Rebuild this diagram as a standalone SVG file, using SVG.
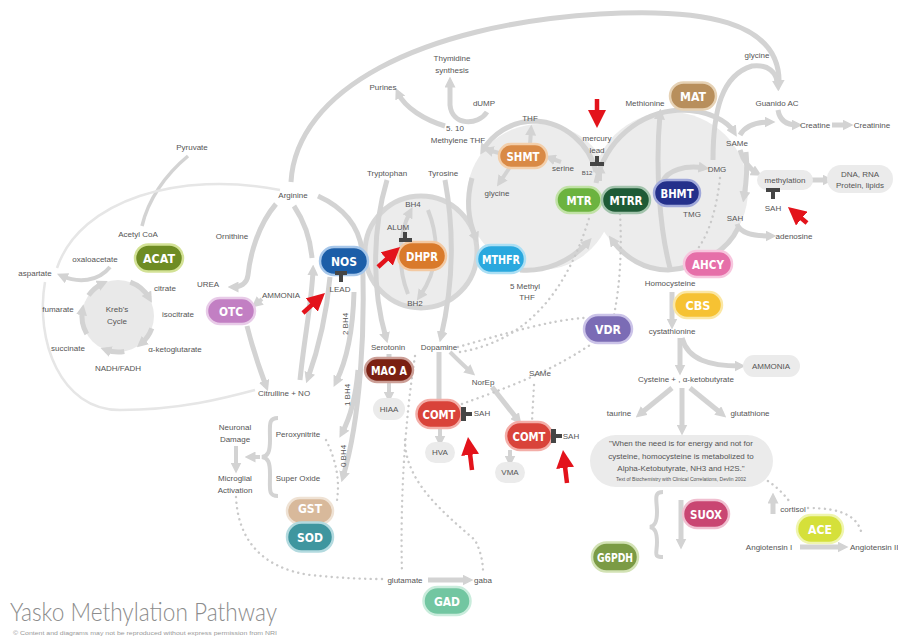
<svg xmlns="http://www.w3.org/2000/svg" width="898" height="638" viewBox="0 0 898 638">
<style>
.a{fill:none;stroke:#d3d3d3;stroke-width:5;marker-end:url(#ah)}
.a4{fill:none;stroke:#d3d3d3;stroke-width:4;marker-end:url(#ah)}
.n{fill:none;stroke:#d3d3d3;stroke-width:5}
.th{fill:none;stroke:#e6e6e6;stroke-width:2.5}
.dt{fill:none;stroke:#c9c9c9;stroke-width:2.4;stroke-dasharray:0.1 5.5;stroke-linecap:round}
.rd{fill:none;stroke:#e3131b;stroke-width:4.5;marker-end:url(#rh)}
.lb{font-family:'Liberation Sans',Arial,sans-serif;font-size:8px;fill:#555;text-anchor:middle}
.sm{font-family:'Liberation Sans',Arial,sans-serif;font-size:6px;fill:#555;text-anchor:middle}
.nt{font-family:'DejaVu Sans','Liberation Sans',sans-serif;font-stretch:condensed;font-weight:bold;font-size:12px;fill:#fff;text-anchor:middle}
.gp{fill:#ebebeb}
.inh{fill:#454545}
.pill{stroke-width:2.5}
</style>
<defs>
<marker id="ah" viewBox="0 0 10 10" refX="5" refY="5" markerWidth="11" markerHeight="11" markerUnits="userSpaceOnUse" orient="auto"><path d="M0,0 L10,5 L0,10 z" fill="#d3d3d3"/></marker>
<marker id="rh" viewBox="0 0 10 10" refX="7" refY="5" markerWidth="18" markerHeight="18" markerUnits="userSpaceOnUse" orient="auto"><path d="M0,0 L10,5 L0,10 z" fill="#e3131b"/></marker>
</defs>
<rect width="898" height="638" fill="#ffffff"/>

<g id="cycles">
<circle cx="540" cy="197" r="73" fill="#ececec"/>
<circle cx="670" cy="190" r="78" fill="#ececec"/>
<circle cx="421" cy="252" r="56" fill="#ececec" stroke="#d6d6d6" stroke-width="5"/>
<circle cx="118" cy="316" r="36" fill="#e9e9e9"/>
</g>

<g id="connectors">
<path class="a" d="M291,182 C296,90 420,25 600,14 C700,8 782,20 779,85"/>
<path class="a" d="M713,160 C713,110 722,75 752,66 C768,64 777,72 778,86"/>
<path class="a" d="M778,110 C780,122 788,125 797,125"/>
<path class="a" d="M740,135 C745,126 755,122 770,122"/>
<path class="a" d="M832,125 L848,125"/>
<path class="a" d="M740,150 C743,160 748,168 757,173"/>
<path class="a" d="M812,180 L828,180"/>
<path class="a" d="M737,224 C740,233 752,236 771,236"/>
<path class="a" d="M596,183 C605,140 640,112 680,110 C710,110 728,122 734,132"/>
<path class="a" d="M746,152 C748,170 746,185 744,197"/>
<path class="a" d="M738,228 C728,250 700,268 668,270 C645,270 625,258 612,240"/>
<path class="a" d="M670,268 C660,230 655,170 660,114"/>
<path class="a" d="M662,182 C668,170 685,165 704,168"/>
<path class="a4" d="M600,181 L600,168"/>
<path class="a" d="M596,172 C590,145 565,122 535,121 C510,121 492,135 483,150"/>
<path class="a" d="M472,178 C466,200 468,220 476,238"/>
<path class="a" d="M520,270 C545,272 570,262 588,242"/>
<path class="a4" d="M530,145 L531,130"/>
<path class="a4" d="M510,167 L500,182"/>
<path class="a4" d="M561,162 L550,158"/>
<path class="a4" d="M499,153 L488,150"/>
<path class="a" d="M445,126 C425,120 405,108 398,93"/>
<path class="a" d="M487,112 C478,126 452,126 450,105 L450,82"/>
<path class="a4" d="M428,210 C440,240 438,270 420,296"/>
<path class="a4" d="M408,294 C398,270 398,235 410,212"/>
<path class="a" d="M130.3,282.2 A36,36 0 0 1 149.2,298"/>
<path class="a" d="M151.8,328.3 A36,36 0 0 1 141.1,343.6"/>
<path class="a" d="M124.3,351.5 A36,36 0 0 1 105.7,349.8"/>
<path class="a" d="M86.8,334 A36,36 0 0 1 82.5,309.7"/>
<path class="a" d="M88.5,295.4 A36,36 0 0 1 102.8,283.4"/>
<path class="n" d="M188,156 C165,175 148,200 142,226" style="stroke-width:3.5"/>
<path class="a4" d="M110,267 C98,282 78,283 62,276"/>
<path class="th" d="M57,268 C80,200 180,170 280,190"/>
<path class="th" d="M45,282 C35,340 60,410 120,410 C180,410 225,398 255,390"/>
<path class="a" d="M276,204 C258,225 250,255 248,275 C247,284 240,287 233,287"/>
<path class="a4" d="M262,299 L256,304"/>
<path class="a" d="M247,326 C253,350 260,370 266,386"/>
<path class="a" d="M300,380 C304,340 312,300 313,270"/>
<path class="n" d="M312,258 C310,235 302,218 294,206"/>
<path class="a" d="M318,196 C340,206 358,222 362,250 C366,330 360,420 343,477"/>
<path class="a" d="M330,277 C326,320 318,350 308,378"/>
<path class="a" d="M354,292 C353,330 347,360 336,382"/>
<path class="a" d="M358,370 C356,395 350,418 342,433"/>
<path class="a4" d="M236,446 L236,468"/>
<path d="M278,418 C268,418 270,425 270,440 C270,452 268,456 262,457 C268,458 270,462 270,474 C270,490 268,496 278,496" fill="none" stroke="#d3d3d3" stroke-width="4"/>
<path class="a4" d="M260,457 L250,457"/>
<path class="a" d="M387,180 C372,230 372,290 386,338"/>
<path class="a" d="M445,180 C456,240 452,290 441,337"/>
<path class="a4" d="M450,352 C458,360 464,366 471,372"/>
<path class="n" d="M439,352 L439,400"/>
<path class="a4" d="M440,428 L440,441"/>
<path class="a" d="M492,387 L518,420"/>
<path class="a4" d="M510,450 L510,461"/>
<path class="n" d="M389,354 L389,360"/>
<path class="a4" d="M389,382 L389,397"/>
<path class="a" d="M428,580 L468,580"/>
<path class="a" d="M672,292 L672,324"/>
<path class="a" d="M680,338 L680,370"/>
<path class="a" d="M682,338 C688,360 710,366 740,366"/>
<path class="a" d="M672,388 L640,414"/>
<path class="a" d="M682,388 L682,430"/>
<path class="a" d="M690,388 L722,414"/>
<path d="M663,492 C653,492 657,500 657,512 C657,522 655,526 650,527 C655,528 657,532 657,542 C657,554 653,557 663,557" fill="none" stroke="#d3d3d3" stroke-width="4"/>
<path class="a" d="M681,500 L681,544"/>
<path class="a" d="M773,514 L773,498"/>
<path class="a" d="M800,547 L843,547"/>
<path class="dt" d="M236,497 C238,540 262,568 310,575 C340,578 360,579 384,579"/>
<path class="dt" d="M326,440 C336,460 340,480 337,500"/>
<path class="dt" d="M415,356 C405,420 400,500 402,572"/>
<path class="dt" d="M405,440 C405,480 440,510 475,540 C480,550 483,560 483,572"/>
<path class="dt" d="M458,347 C500,335 550,320 584,318"/>
<path class="dt" d="M460,352 C520,342 565,300 590,215"/>
<path class="dt" d="M620,214 C622,250 620,285 614,315"/>
<path class="dt" d="M462,404 C500,390 545,375 590,345"/>
<path class="dt" d="M534,385 L532,421"/>
<path class="dt" d="M763,478 C775,485 782,492 790,502"/>
<path class="dt" d="M808,508 C840,508 858,515 862,535"/>
<path class="dt" d="M720,178 C716,215 706,240 695,252"/>
</g>

<g id="n-hiaa"><rect class="gp" x="373" y="398" width="32" height="22" rx="11"/><text class="lb" x="389" y="412">HIAA</text></g>
<g id="n-hva"><rect class="gp" x="425" y="442" width="30" height="21" rx="10.5"/><text class="lb" x="440" y="455">HVA</text></g>
<g id="n-vma"><rect class="gp" x="495" y="462" width="30" height="21" rx="10.5"/><text class="lb" x="510" y="475">VMA</text></g>
<g id="n-ammonia2"><rect class="gp" x="743" y="355" width="57" height="22" rx="11"/><text class="lb" x="771" y="369">AMMONIA</text></g>
<g id="n-methylation"><rect class="gp" x="757" y="170" width="56" height="20" rx="10"/><text class="lb" x="785" y="183">methylation</text></g>
<g id="n-dna"><rect class="gp" x="827" y="165" width="66" height="28" rx="14"/><text class="lb" x="860" y="177">DNA, RNA</text><text class="lb" x="860" y="188">Protein, lipids</text></g>
<g id="n-quote"><rect class="gp" x="590" y="435" width="183" height="52" rx="26"/>
<text class="lb" x="681" y="446" fill="#444">"When the need is for energy and not for</text>
<text class="lb" x="681" y="459" fill="#444">cysteine, homocysteine is metabolized to</text>
<text class="lb" x="681" y="471" fill="#444">Alpha-Ketobutyrate, NH3 and H2S."</text>
<text class="sm" x="681" y="481" style="font-size:5px">Text of Biochemistry with Clinical Correlations, Devlin 2002</text></g>

<g id="n-acat"><rect class="pill" x="135" y="244.5" width="48" height="27" rx="13.5" fill="#6e8c23" stroke="#d3e296"/><text class="nt" x="159" y="262.5" textLength="32" lengthAdjust="spacingAndGlyphs">ACAT</text></g>
<g id="n-otc"><rect class="pill" x="207" y="298" width="48" height="26" rx="13" fill="#c27fc3" stroke="#e8cbe8"/><text class="nt" x="231" y="315.5" textLength="24" lengthAdjust="spacingAndGlyphs">OTC</text></g>
<g id="n-nos"><rect class="pill" x="320" y="247" width="48" height="28" rx="14" fill="#1c5ea8" stroke="#a7c7ea"/><text class="nt" x="344" y="265.5" textLength="26" lengthAdjust="spacingAndGlyphs">NOS</text></g>
<g id="n-dhpr"><rect class="pill" x="398" y="242" width="48" height="28" rx="14" fill="#d97a2b" stroke="#f3c9a2"/><text class="nt" x="422" y="260.5" textLength="32" lengthAdjust="spacingAndGlyphs">DHPR</text></g>
<g id="n-mthfr"><rect class="pill" x="477" y="245" width="48" height="28" rx="14" fill="#2aa8de" stroke="#acdff4"/><text class="nt" x="501" y="263.5" textLength="38" lengthAdjust="spacingAndGlyphs">MTHFR</text></g>
<g id="n-shmt"><rect class="pill" x="499" y="144" width="48" height="24" rx="12" fill="#d98a46" stroke="#f3cfab"/><text class="nt" x="523" y="160.5" textLength="33" lengthAdjust="spacingAndGlyphs">SHMT</text></g>
<g id="n-mtr"><rect class="pill" x="556.5" y="187" width="45" height="26" rx="13" fill="#6cb33f" stroke="#c1e2a6"/><text class="nt" x="579" y="204.5" textLength="25" lengthAdjust="spacingAndGlyphs">MTR</text></g>
<g id="n-mtrr"><rect class="pill" x="602" y="187" width="48" height="26" rx="13" fill="#1e5b36" stroke="#a2c3ac"/><text class="nt" x="626" y="204.5" textLength="33" lengthAdjust="spacingAndGlyphs">MTRR</text></g>
<g id="n-bhmt"><rect class="pill" x="654" y="180" width="46" height="26" rx="13" fill="#24308b" stroke="#a0a8da"/><text class="nt" x="677" y="197.5" textLength="33" lengthAdjust="spacingAndGlyphs">BHMT</text></g>
<g id="n-mat"><rect class="pill" x="670" y="82.5" width="46" height="27" rx="13.5" fill="#b88f5c" stroke="#e6d2b5"/><text class="nt" x="693" y="100.5" textLength="26" lengthAdjust="spacingAndGlyphs">MAT</text></g>
<g id="n-ahcy"><rect class="pill" x="684" y="251" width="48" height="26" rx="13" fill="#e66fa9" stroke="#f7c6de"/><text class="nt" x="708" y="268.5" textLength="32" lengthAdjust="spacingAndGlyphs">AHCY</text></g>
<g id="n-cbs"><rect class="pill" x="674" y="292" width="48" height="26" rx="13" fill="#f6c233" stroke="#fbe7a4"/><text class="nt" x="698" y="309.5" textLength="25" lengthAdjust="spacingAndGlyphs">CBS</text></g>
<g id="n-vdr"><rect class="pill" x="584" y="315" width="48" height="28" rx="14" fill="#7b6cb5" stroke="#cbc3e8"/><text class="nt" x="608" y="333.5" textLength="26" lengthAdjust="spacingAndGlyphs">VDR</text></g>
<g id="n-maoa"><rect class="pill" x="365" y="358" width="48" height="24" rx="12" fill="#7a2012" stroke="#cc9f97"/><text class="nt" x="389" y="374.5" textLength="36" lengthAdjust="spacingAndGlyphs">MAO A</text></g>
<g id="n-comt1"><rect class="pill" x="416.5" y="400" width="45" height="28" rx="14" fill="#d9433a" stroke="#f3aea8"/><text class="nt" x="439" y="418.5" textLength="33" lengthAdjust="spacingAndGlyphs">COMT</text></g>
<g id="n-comt2"><rect class="pill" x="506" y="422" width="46" height="28" rx="14" fill="#d9433a" stroke="#f3aea8"/><text class="nt" x="529" y="440.5" textLength="33" lengthAdjust="spacingAndGlyphs">COMT</text></g>
<g id="n-gst"><rect class="pill" x="287" y="498" width="46" height="26" rx="13" fill="#d8b99b" stroke="#efe2d4"/><text class="nt" x="310" y="513" textLength="24" lengthAdjust="spacingAndGlyphs">GST</text></g>
<g id="n-sod"><rect class="pill" x="287" y="522.5" width="46" height="29" rx="14.5" fill="#3f969f" stroke="#b3dadf"/><text class="nt" x="310" y="541.5" textLength="26" lengthAdjust="spacingAndGlyphs">SOD</text></g>
<g id="n-gad"><rect class="pill" x="423.5" y="587" width="47" height="28" rx="14" fill="#72c6a1" stroke="#c9ecdc"/><text class="nt" x="447" y="605.5" textLength="26" lengthAdjust="spacingAndGlyphs">GAD</text></g>
<g id="n-suox"><rect class="pill" x="683" y="500" width="46" height="28" rx="14" fill="#c94672" stroke="#f0bfd0"/><text class="nt" x="706" y="518.5" textLength="32" lengthAdjust="spacingAndGlyphs">SUOX</text></g>
<g id="n-ace"><rect class="pill" x="797" y="515" width="46" height="28" rx="14" fill="#d5e03a" stroke="#eff5ae"/><text class="nt" x="820" y="533.5" textLength="24" lengthAdjust="spacingAndGlyphs">ACE</text></g>
<g id="n-g6pdh"><rect class="pill" x="592" y="542.5" width="46" height="29" rx="14.5" fill="#7b9b45" stroke="#d2e2b4"/><text class="nt" x="615" y="561.5" textLength="36" lengthAdjust="spacingAndGlyphs">G6PDH</text></g>

<g id="inhibitors">
<rect class="inh" x="335" y="271" width="12" height="4"/><rect class="inh" x="339" y="274" width="4" height="8"/>
<rect class="inh" x="403" y="232" width="4" height="8"/><rect class="inh" x="399" y="238" width="13" height="4"/>
<rect class="inh" x="595" y="156" width="4" height="7"/><rect class="inh" x="590" y="162" width="14" height="4"/>
<rect class="inh" x="461" y="407" width="5" height="14"/><rect class="inh" x="465" y="412" width="7" height="4"/>
<rect class="inh" x="551" y="429" width="5" height="14"/><rect class="inh" x="555" y="434" width="7" height="4"/>
<rect class="inh" x="766" y="188" width="14" height="4"/><rect class="inh" x="771" y="191" width="4" height="8"/>
</g>

<g id="labels">
<text class="lb" x="192" y="150">Pyruvate</text>
<text class="lb" x="138" y="237">Acetyl CoA</text>
<text class="lb" x="95" y="262">oxaloacetate</text>
<text class="lb" x="35" y="276">aspartate</text>
<text class="lb" x="165" y="291">citrate</text>
<text class="lb" x="58" y="312">fumarate</text>
<text class="lb" x="117" y="312">Kreb's</text>
<text class="lb" x="117" y="324">Cycle</text>
<text class="lb" x="178" y="317">isocitrate</text>
<text class="lb" x="68" y="351">succinate</text>
<text class="lb" x="175" y="352">α-ketoglutarate</text>
<text class="lb" x="118" y="371">NADH/FADH</text>
<text class="lb" x="293" y="198">Arginine</text>
<text class="lb" x="232" y="239">Ornithine</text>
<text class="lb" x="208" y="287">UREA</text>
<text class="lb" x="281" y="298">AMMONIA</text>
<text class="lb" x="340" y="292">LEAD</text>
<text class="lb" x="284" y="396">Citrulline + NO</text>
<text class="lb" x="235" y="430">Neuronal</text>
<text class="lb" x="235" y="442">Damage</text>
<text class="lb" x="235" y="481">Microglial</text>
<text class="lb" x="235" y="493">Activation</text>
<text class="lb" x="298" y="437">Peroxynitrite</text>
<text class="lb" x="298" y="481">Super Oxide</text>
<text class="lb" transform="translate(348,324) rotate(-90)">2 BH4</text>
<text class="lb" transform="translate(350,395) rotate(-90)">1 BH4</text>
<text class="lb" transform="translate(346,456) rotate(-90)">0 BH4</text>
<text class="lb" x="387" y="176">Tryptophan</text>
<text class="lb" x="443" y="176">Tyrosine</text>
<text class="lb" x="383" y="90">Purines</text>
<text class="lb" x="452" y="61">Thymidine</text>
<text class="lb" x="452" y="73">synthesis</text>
<text class="lb" x="484" y="106">dUMP</text>
<text class="lb" x="455" y="131">5. 10</text>
<text class="lb" x="458" y="143">Methylene THF</text>
<text class="lb" x="530" y="121">THF</text>
<text class="lb" x="563" y="171">serine</text>
<text class="lb" x="497" y="196">glycine</text>
<text class="lb" x="413" y="207">BH4</text>
<text class="lb" x="398" y="230">ALUM</text>
<text class="lb" x="415" y="306">BH2</text>
<text class="lb" x="525" y="289">5 Methyl</text>
<text class="lb" x="527" y="300">THF</text>
<text class="lb" x="388" y="350">Serotonin</text>
<text class="lb" x="439" y="350">Dopamine</text>
<text class="lb" x="483" y="385">NorEp</text>
<text class="lb" x="540" y="376">SAMe</text>
<text class="lb" x="482" y="416">SAH</text>
<text class="lb" x="571" y="439">SAH</text>
<text class="lb" x="405" y="583">glutamate</text>
<text class="lb" x="483" y="583">gaba</text>
<text class="lb" x="597" y="141">mercury</text>
<text class="lb" x="597" y="153">lead</text>
<text class="sm" x="587" y="175">B12</text>
<text class="lb" x="645" y="106">Methionine</text>
<text class="lb" x="757" y="58">glycine</text>
<text class="lb" x="777" y="106">Guanido AC</text>
<text class="lb" x="815" y="128">Creatine</text>
<text class="lb" x="872" y="128">Creatinine</text>
<text class="lb" x="737" y="146">SAMe</text>
<text class="lb" x="717" y="172">DMG</text>
<text class="lb" x="692" y="217">TMG</text>
<text class="lb" x="735" y="221">SAH</text>
<text class="lb" x="773" y="211">SAH</text>
<text class="lb" x="794" y="239">adenosine</text>
<text class="lb" x="670" y="286">Homocysteine</text>
<text class="lb" x="672" y="334">cystathionine</text>
<text class="lb" x="686" y="382">Cysteine + , α-ketobutyrate</text>
<text class="lb" x="619" y="416">taurine</text>
<text class="lb" x="750" y="416">glutathione</text>
<text class="lb" x="793" y="512">cortisol</text>
<text class="lb" x="769" y="550">Angiotensin I</text>
<text class="lb" x="850" y="550" style="text-anchor:start">Angiotensin II</text>
</g>

<g id="red-arrows">
<path class="rd" d="M597,99 L597,122.6"/>
<path class="rd" d="M303,313 L321,296.6"/>
<path class="rd" d="M378,267 L396,250.6"/>
<path class="rd" d="M472,470 L468.65,442.4"/>
<path class="rd" d="M567,483 L563.65,455.4"/>
<path class="rd" d="M807,223 L792.1,210.5"/>
</g>

<g id="title">
<text x="10" y="621" font-family="Lato,'Liberation Sans',sans-serif" font-weight="300" font-size="26" fill="#8c8c8c" textLength="267" lengthAdjust="spacingAndGlyphs">Yasko Methylation Pathway</text>
<text x="13" y="635" font-family="'Liberation Sans',Arial,sans-serif" font-size="5" fill="#999" textLength="264" lengthAdjust="spacingAndGlyphs">© Content and diagrams may not be reproduced without express permission from NRI</text>
</g>
</svg>
